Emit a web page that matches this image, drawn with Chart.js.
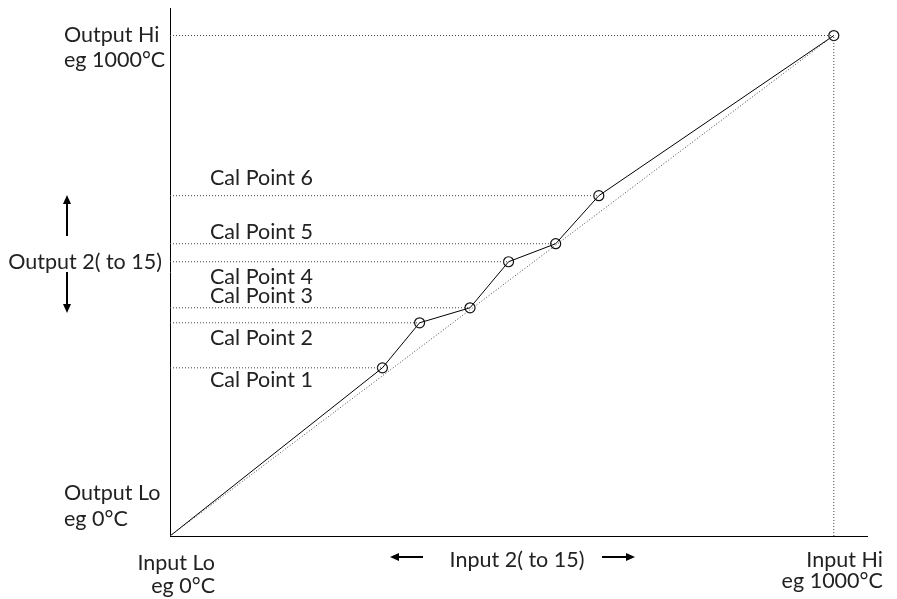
<!DOCTYPE html>
<html>
<head>
<meta charset="utf-8">
<script src="https://cdn.jsdelivr.net/npm/chart.js@4"></script>
<style>
  html, body { margin: 0; padding: 0; background: #fff; }
  #wrap { width: 897px; height: 599px; }
</style>
</head>
<body>
<div id="wrap"><canvas id="calChart" width="897" height="599"></canvas></div>
<script>
// input / output values of the calibration points (0..1000 scale)
const calInput  = [320, 376, 452, 510, 581, 646];
const calOutput = [336, 426, 456, 548, 584, 680];
const calLabels = ['Cal Point 1', 'Cal Point 2', 'Cal Point 3', 'Cal Point 4', 'Cal Point 5', 'Cal Point 6'];
const rangeLo = 0;
const rangeHi = 1000;

const FONT = '21.5px Lato, "Noto Sans", sans-serif';

// full curve: Lo -> cal points -> Hi
const curve = [{ x: rangeLo, y: rangeLo }];
calInput.forEach((x, i) => curve.push({ x: x, y: calOutput[i] }));
curve.push({ x: rangeHi, y: rangeHi });

const dotted = {
    borderColor: '#444',
    borderWidth: 1,
    borderDash: [1, 2],
    pointRadius: 0,
    showLine: true,
    fill: false
};

const datasets = [];

// straight (uncalibrated) diagonal
datasets.push(Object.assign({ data: [{ x: rangeLo, y: rangeLo }, { x: rangeHi, y: rangeHi }] }, dotted));

// horizontal guides from the output axis to each point
calInput.forEach((x, i) => {
    datasets.push(Object.assign({ data: [{ x: rangeLo, y: calOutput[i] }, { x: x, y: calOutput[i] }] }, dotted));
});
datasets.push(Object.assign({ data: [{ x: rangeLo, y: rangeHi }, { x: rangeHi, y: rangeHi }] }, dotted));
// vertical guide at Input Hi
datasets.push(Object.assign({ data: [{ x: rangeHi, y: rangeLo }, { x: rangeHi, y: rangeHi }] }, dotted));

// calibrated curve
datasets.push({
    data: curve,
    showLine: true,
    borderColor: '#000',
    borderWidth: 1,
    pointRadius: curve.map((p, i) => i === 0 ? 0 : 5),
    pointBackgroundColor: 'rgba(0,0,0,0)',
    pointBorderColor: '#111',
    pointBorderWidth: 1.2,
    fill: false
});

function arrow(ctx, x1, y1, x2, y2) {
    const a = Math.atan2(y2 - y1, x2 - x1);
    const h = 9, w = 4;
    ctx.beginPath();
    ctx.moveTo(x1, y1);
    ctx.lineTo(x2 - Math.cos(a) * h, y2 - Math.sin(a) * h);
    ctx.lineWidth = 2;
    ctx.strokeStyle = '#000';
    ctx.stroke();
    ctx.beginPath();
    ctx.moveTo(x2, y2);
    ctx.lineTo(x2 - Math.cos(a) * h - Math.sin(a) * w, y2 - Math.sin(a) * h + Math.cos(a) * w);
    ctx.lineTo(x2 - Math.cos(a) * h + Math.sin(a) * w, y2 - Math.sin(a) * h - Math.cos(a) * w);
    ctx.closePath();
    ctx.fillStyle = '#000';
    ctx.fill();
}

const labelsPlugin = {
    id: 'labels',
    afterDraw(chart) {
        const ctx = chart.ctx;
        const xs = chart.scales.x, ys = chart.scales.y;
        const x0 = xs.getPixelForValue(rangeLo);
        const xHi = xs.getPixelForValue(rangeHi);
        const yHi = ys.getPixelForValue(rangeHi);
        const y0 = ys.getPixelForValue(rangeLo);
        ctx.save();
        ctx.font = FONT;
        ctx.fillStyle = '#222';
        ctx.textBaseline = 'middle';

        // output axis labels
        ctx.textAlign = 'left';
        ctx.fillText('Output Hi', 64, yHi);
        ctx.fillText('eg 1000\u00B0C', 64, yHi + 25);
        ctx.fillText('Output Lo', 64, y0 - 43);
        ctx.fillText('eg 0\u00B0C', 64, y0 - 17);
        ctx.textAlign = 'right';
        ctx.fillText('Output 2( to 15)', x0 - 8, ys.getPixelForValue(calOutput[3]));

        // cal point labels
        const offs = [12, 15, -12, 15, -12, -18];
        ctx.textAlign = 'left';
        calLabels.forEach((t, i) => {
            ctx.fillText(t, x0 + 40, ys.getPixelForValue(calOutput[i]) + offs[i]);
        });

        // input axis labels
        ctx.textAlign = 'right';
        ctx.fillText('Input Lo', x0 + 45, y0 + 27);
        ctx.fillText('eg 0\u00B0C', x0 + 45, y0 + 50);
        ctx.fillText('Input Hi', xHi + 49, y0 + 24);
        ctx.fillText('eg 1000\u00B0C', xHi + 49, y0 + 45);
        ctx.textAlign = 'center';
        ctx.fillText('Input 2( to 15)', 517, y0 + 24);

        // arrows
        arrow(ctx, 423, y0 + 21, 390, y0 + 21);
        arrow(ctx, 602, y0 + 21, 635, y0 + 21);
        arrow(ctx, 67, 236, 67, 195);
        arrow(ctx, 67, 272, 67, 313);
        ctx.restore();
    }
};

const ctx = document.getElementById('calChart').getContext('2d');
const calChart = new Chart(ctx, {
    type: 'scatter',
    data: { datasets: datasets },
    options: {
        responsive: false,
        animation: false,
        layout: { padding: { left: 162, right: 30, top: 8, bottom: 55 } },
        plugins: {
            legend: { display: false },
            tooltip: { enabled: false }
        },
        scales: {
            x: {
                type: 'linear',
                min: 0,
                max: 1050,
                grid: { display: false },
                ticks: { display: false },
                border: { display: true, color: '#000', width: 1 }
            },
            y: {
                type: 'linear',
                min: 0,
                max: 1055,
                grid: { display: false },
                ticks: { display: false },
                border: { display: true, color: '#000', width: 1 }
            }
        }
    },
    plugins: [labelsPlugin]
});
</script>
</body>
</html>
